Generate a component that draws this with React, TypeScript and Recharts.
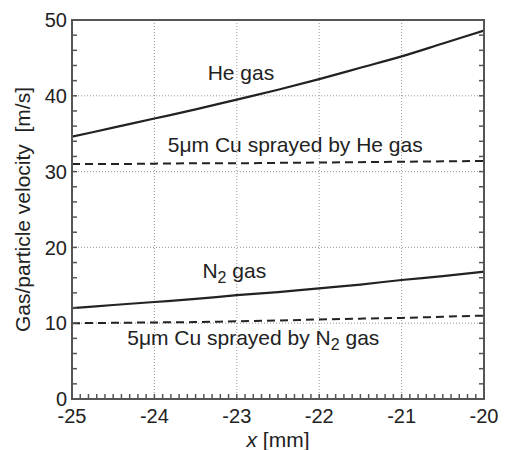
import React from 'react';
import {
  LineChart,
  Line,
  XAxis,
  YAxis,
  ReferenceLine,
  ReferenceArea,
  ReferenceDot,
  Label,
} from 'recharts';

// positions along the nozzle [mm]
const positions = [-25, -24.5, -24, -23.5, -23, -22.5, -22, -21.5, -21, -20.5, -20];

// velocities [m/s]
const heGas = [34.6, 35.8, 37.0, 38.2, 39.5, 40.8, 42.2, 43.7, 45.2, 46.9, 48.6];
const heParticle = [31.0, 31.0, 31.05, 31.1, 31.1, 31.15, 31.2, 31.25, 31.3, 31.35, 31.4];
const n2Gas = [12.0, 12.4, 12.8, 13.2, 13.7, 14.1, 14.6, 15.1, 15.7, 16.2, 16.8];
const n2Particle = [10.0, 10.05, 10.1, 10.15, 10.25, 10.35, 10.5, 10.6, 10.7, 10.85, 11.0];

const xMajor = [-25, -24, -23, -22, -21, -20];
const yMajor = [0, 10, 20, 30, 40, 50];

const data = positions.map((x, i) => ({
  x,
  heGas: heGas[i],
  heParticle: heParticle[i],
  n2Gas: n2Gas[i],
  n2Particle: n2Particle[i],
}));

// all tick positions: every 0.1 mm and every 2 m/s
const xTicks = Array.from({ length: 51 }, (_, i) => Math.round((-25 + i * 0.1) * 10) / 10);
const yTicks = Array.from({ length: 26 }, (_, i) => i * 2);

const X_MIN = -25;
const X_MAX = -20;
const Y_MIN = 0;
const Y_MAX = 50;

const FONT = '"Liberation Sans", Arial, Helvetica, sans-serif';
const INK = '#222222';

const isInt = (v: number) => Math.abs(v - Math.round(v)) < 1e-6;
const xLabel = (v: number) => (isInt(v) ? String(v) : '');
const yLabel = (v: number) => (v % 10 === 0 ? String(v) : '');
const noLabel = () => '';

// curve annotations; "sub" is drawn as a subscript after "before"
const note = (before: string, sub?: string, after?: string) => (props: any) => {
  const { viewBox } = props;
  const cx = viewBox.x + viewBox.width / 2;
  const cy = viewBox.y + viewBox.height / 2;
  return (
    <text x={cx} y={cy} textAnchor="middle" fontSize={21} fontFamily={FONT} fill={INK} style={{ whiteSpace: 'pre' }}>
      {before}
      {sub && (
        <tspan fontSize={16} dy={5}>
          {sub}
        </tspan>
      )}
      {after && <tspan dy={sub ? -5 : 0}>{after}</tspan>}
    </text>
  );
};

const yTitle = (props: any) => {
  const { viewBox } = props;
  const cy = viewBox.y + viewBox.height / 2;
  return (
    <text
      x={22}
      y={cy}
      transform={`rotate(-90 22 ${cy})`}
      textAnchor="middle"
      dominantBaseline="central"
      fontSize={21}
      fontFamily={FONT}
      fill={INK}
      style={{ whiteSpace: 'pre' }}
    >
      Gas/particle velocity  [m/s]
    </text>
  );
};

const xTitle = (props: any) => {
  const { viewBox } = props;
  const cx = viewBox.x + viewBox.width / 2;
  return (
    <text x={cx} y={viewBox.y + 48} textAnchor="middle" fontSize={21} fontFamily={FONT} fill={INK} style={{ whiteSpace: 'pre' }}>
      <tspan fontStyle="italic">x</tspan> [mm]
    </text>
  );
};

const tickFont = { fontSize: 20, fontFamily: FONT, fill: INK };
const frameLine = { stroke: '#555555', strokeWidth: 2 };
const tickMark = { stroke: '#555555', strokeWidth: 1.5 };

export default function App() {
  return (
    <div style={{ position: 'absolute', left: 0, top: 0, background: '#fff' }}>
      <LineChart width={506} height={450} data={data} margin={{ top: 19, right: 21, left: 0, bottom: 0 }}>
        {/* bottom and left: labelled axes, ticks pointing into the plot */}
        <XAxis
          xAxisId="bx"
          dataKey="x"
          type="number"
          domain={[X_MIN, X_MAX]}
          allowDataOverflow
          ticks={xTicks}
          interval={0}
          height={51}
          tickSize={-5}
          tickMargin={15}
          tickLine={tickMark}
          axisLine={frameLine}
          tick={tickFont}
          tickFormatter={xLabel}
        >
          <Label content={xTitle} />
        </XAxis>
        <YAxis
          yAxisId="ly"
          type="number"
          domain={[Y_MIN, Y_MAX]}
          allowDataOverflow
          ticks={yTicks}
          interval={0}
          width={72}
          tickSize={-5}
          tickMargin={10}
          tickLine={tickMark}
          axisLine={frameLine}
          tick={tickFont}
          tickFormatter={yLabel}
        >
          <Label content={yTitle} />
        </YAxis>

        {/* top and right: unlabelled mirror of the same scales to close the box */}
        <XAxis
          xAxisId="tx"
          orientation="top"
          type="number"
          domain={[X_MIN, X_MAX]}
          allowDataOverflow
          ticks={xTicks}
          interval={0}
          height={1}
          tickSize={-5}
          tickMargin={0}
          tickLine={tickMark}
          axisLine={frameLine}
          tick={tickFont}
          tickFormatter={noLabel}
        />
        <YAxis
          yAxisId="ry"
          orientation="right"
          type="number"
          domain={[Y_MIN, Y_MAX]}
          allowDataOverflow
          ticks={yTicks}
          interval={0}
          width={1}
          tickSize={-5}
          tickMargin={0}
          tickLine={tickMark}
          axisLine={frameLine}
          tick={tickFont}
          tickFormatter={noLabel}
        />

        {/* dotted grid at the major ticks */}
        {xMajor.slice(1, -1).map((v) => (
          <ReferenceLine key={`gx${v}`} xAxisId="bx" yAxisId="ly" x={v} stroke="#999999" strokeDasharray="1 2" />
        ))}
        {yMajor.slice(1, -1).map((v) => (
          <ReferenceLine key={`gy${v}`} xAxisId="bx" yAxisId="ly" y={v} stroke="#999999" strokeDasharray="1 2" />
        ))}

        {/* box outline */}
        <ReferenceArea
          xAxisId="bx"
          yAxisId="ly"
          x1={X_MIN}
          x2={X_MAX}
          y1={Y_MIN}
          y2={Y_MAX}
          ifOverflow="visible"
          fill="none"
          fillOpacity={0}
          stroke="#555555"
          strokeWidth={2}
        />

        <Line xAxisId="bx" yAxisId="ly" dataKey="heGas" type="monotone" stroke={INK} strokeWidth={2.2} dot={false} isAnimationActive={false} />
        <Line xAxisId="bx" yAxisId="ly" dataKey="heParticle" type="monotone" stroke={INK} strokeWidth={2} strokeDasharray="8 5" dot={false} isAnimationActive={false} />
        <Line xAxisId="bx" yAxisId="ly" dataKey="n2Gas" type="monotone" stroke={INK} strokeWidth={2.2} dot={false} isAnimationActive={false} />
        <Line xAxisId="bx" yAxisId="ly" dataKey="n2Particle" type="monotone" stroke={INK} strokeWidth={2} strokeDasharray="8 5" dot={false} isAnimationActive={false} />

        <ReferenceDot xAxisId="bx" yAxisId="ly" x={-22.95} y={42.1} r={0} fill="none" stroke="none" label={{ content: note('He gas') }} />
        <ReferenceDot xAxisId="bx" yAxisId="ly" x={-22.29} y={32.6} r={0} fill="none" stroke="none" label={{ content: note('5μm Cu sprayed by He gas') }} />
        <ReferenceDot xAxisId="bx" yAxisId="ly" x={-23.03} y={15.95} r={0} fill="none" stroke="none" label={{ content: note('N', '2', ' gas') }} />
        <ReferenceDot xAxisId="bx" yAxisId="ly" x={-22.8} y={7.1} r={0} fill="none" stroke="none" label={{ content: note('5μm Cu sprayed by N', '2', ' gas') }} />
      </LineChart>
    </div>
  );
}
